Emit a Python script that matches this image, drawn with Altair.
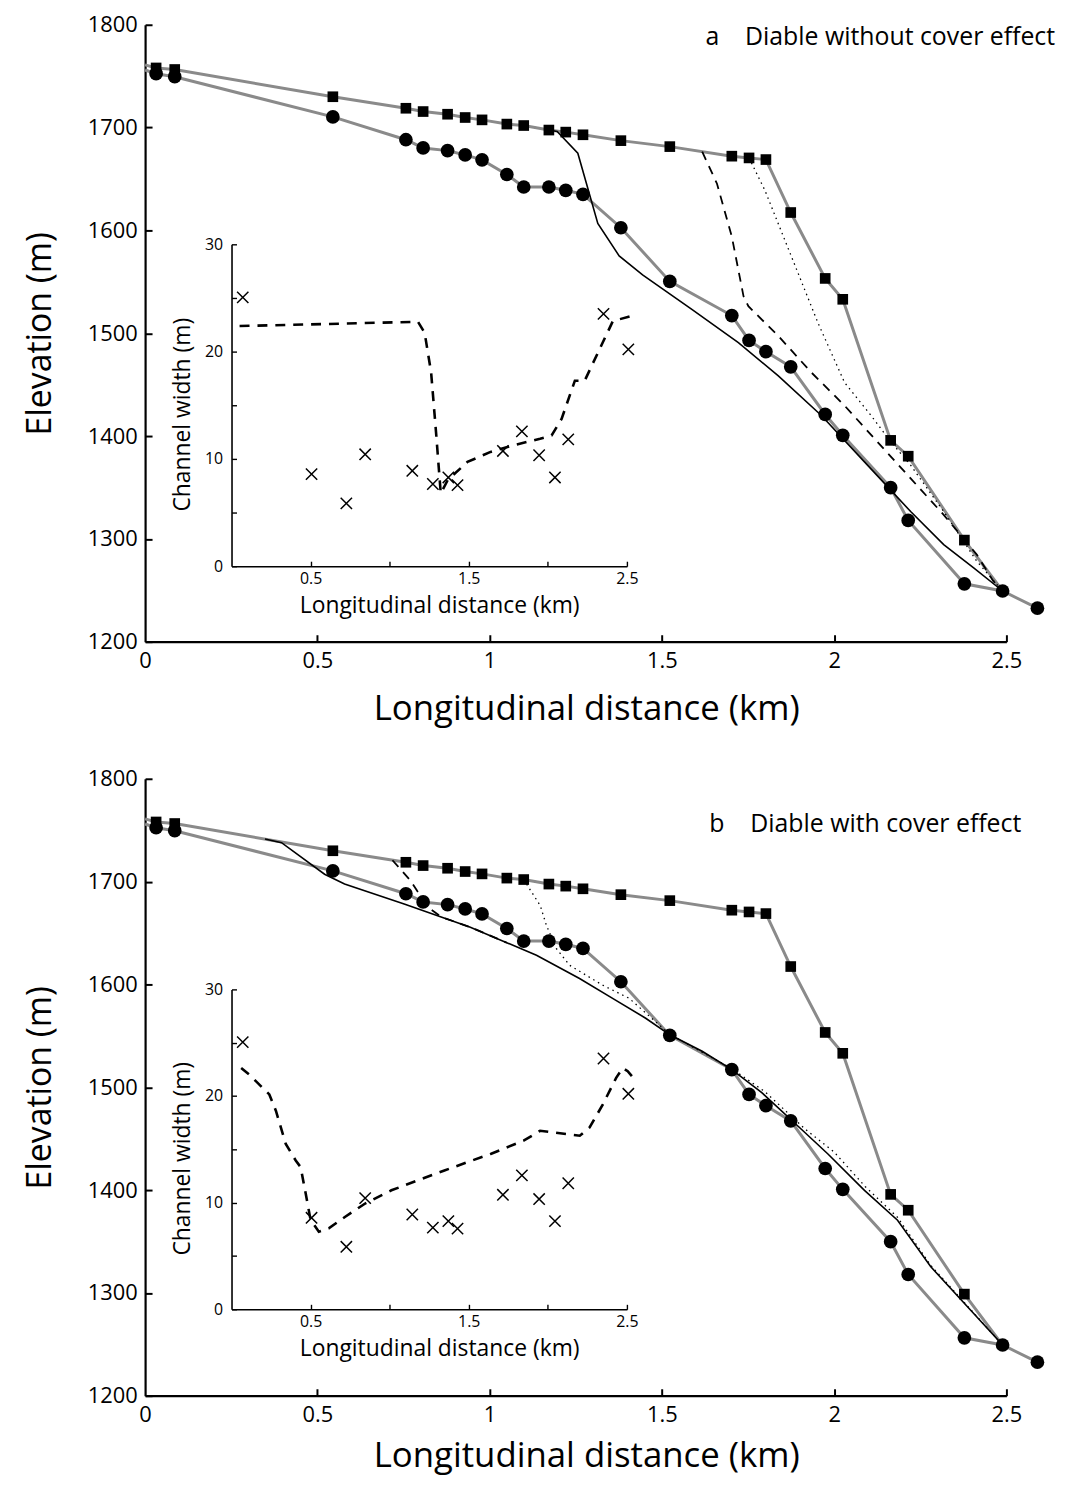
import altair as alt
import pandas as pd

FONT = "Open Sans"
W, H = 867, 1380  # single plot area holding both panels

# ---------------- data ----------------
# measured profiles (distance km, elevation m) - identical in both panels
sq_x = [0.032, 0.086, 0.545, 0.757, 0.807, 0.878, 0.929, 0.978, 1.050, 1.099, 1.172, 1.221,
        1.271, 1.381, 1.523, 1.703, 1.753, 1.802, 1.874, 1.974, 2.025, 2.164, 2.215, 2.378]
sq_elev = [1758, 1756.5, 1730, 1718.8, 1715.6, 1713, 1709.8, 1707.5, 1703.4, 1702, 1697.6, 1695.6,
           1693, 1687.3, 1681.5, 1672.2, 1670.5, 1668.9, 1617.4, 1553.3, 1533, 1395.8, 1380.4, 1298.8]
ci_x = [0.032, 0.086, 0.545, 0.757, 0.807, 0.878, 0.929, 0.978, 1.050, 1.099, 1.172, 1.221,
        1.271, 1.381, 1.523, 1.703, 1.753, 1.802, 1.874, 1.974, 2.025, 2.164, 2.215, 2.378,
        2.489, 2.590]
ci_elev = [1752.4, 1749.5, 1710.4, 1688.2, 1680.2, 1677.6, 1673.4, 1668.6, 1654.4, 1642.2, 1642.2, 1639,
           1635, 1602.6, 1550.4, 1517.2, 1493, 1482.1, 1467.3, 1421, 1400.7, 1349.8, 1317.9, 1256.3,
           1249.3, 1232.6]
sq_line_x = [0.0] + sq_x + [2.489]
sq_line_elev = [1761] + sq_elev + [1249.3]
ci_line_x = [0.0] + ci_x
ci_line_elev = [1756] + ci_elev

# panel a: modelled profiles without cover effect
a_solid_x = [1.172, 1.196, 1.256, 1.314, 1.376, 1.444, 1.588, 1.722, 1.838, 1.963, 2.088, 2.222, 2.318, 2.405, 2.489]
a_solid_elev = [1697.6, 1696.3, 1675.1, 1606.8, 1575.2, 1556.8, 1523, 1490.8, 1458.6, 1420, 1374.9, 1326.6, 1294.4, 1271.8, 1249.3]
a_dash_x = [1.617, 1.660, 1.703, 1.737, 1.751, 1.838, 1.934, 2.030, 2.126, 2.222, 2.318, 2.414, 2.462, 2.489]
a_dash_elev = [1676.6, 1645.4, 1593.9, 1535.9, 1526.3, 1497.3, 1461.8, 1429.7, 1394.2, 1358.8, 1323.4, 1284.7, 1258.9, 1249.3]
a_dot_x = [1.753, 1.799, 1.876, 1.953, 2.030, 2.107, 2.165, 2.222, 2.318, 2.414, 2.489]
a_dot_elev = [1670.5, 1639, 1574.6, 1510.1, 1452.2, 1420, 1394.2, 1371.7, 1326.6, 1278.3, 1249.3]

# panel b: modelled profiles with cover effect
b_solid_x = [0.348, 0.396, 0.521, 0.579, 0.752, 0.944, 1.136, 1.261, 1.357, 1.453, 1.523, 1.617,
             1.703, 1.790, 1.915, 1.982, 2.088, 2.184, 2.280, 2.489]
b_solid_elev = [1741.4, 1737.9, 1707.2, 1697.6, 1678.3, 1655.7, 1628.3, 1605.8, 1586.5, 1567.1, 1551, 1535,
                1517.2, 1494.7, 1456, 1435.1, 1399.7, 1370.7, 1325.6, 1249.3]
b_dash_x = [0.718, 0.771, 0.790, 0.828, 0.860, 0.944, 1.050]
b_dash_elev = [1720.8, 1700.8, 1690.8, 1673.4, 1665.6, 1655.7, 1640.5]
b_dot_x = [1.099, 1.147, 1.165, 1.194, 1.232, 1.328, 1.405, 1.523, 1.703, 1.800, 1.915, 2.000,
           2.090, 2.184, 2.280, 2.489]
b_dot_elev = [1702, 1676.6, 1657.3, 1634.8, 1618.7, 1599.3, 1586.5, 1551.5, 1518, 1495.5, 1459.5, 1437,
              1403.5, 1373.5, 1327, 1249.3]

# insets: channel width (m)
w_obs_x = [0.071, 0.506, 0.726, 0.845, 1.143, 1.273, 1.371, 1.429, 1.716, 1.836, 1.945, 2.045, 2.129, 2.352, 2.509]
w_obs = [25.06, 8.58, 5.86, 10.43, 8.89, 7.66, 8.27, 7.56, 10.74, 12.56, 10.34, 8.27, 11.82, 23.52, 20.21]
a_w_x = [0.051, 1.179, 1.221, 1.262, 1.293, 1.314, 1.323, 1.367, 1.492, 1.638, 1.784, 1.951, 2.024,
         2.087, 2.171, 2.233, 2.411, 2.536]
a_w = [22.38, 22.78, 21.76, 18.06, 12.5, 8.49, 6.79, 8.03, 9.72, 10.65, 11.27, 11.88, 12.19,
       13.73, 17.29, 17.29, 22.84, 23.36]
b_w_x = [0.061, 0.113, 0.239, 0.281, 0.343, 0.406, 0.437, 0.469, 0.500, 0.552, 0.615, 0.719, 0.845,
         1.011, 1.346, 1.638, 1.847, 1.951, 2.202, 2.264, 2.348, 2.432, 2.474, 2.505, 2.557]
b_w = [22.63, 22.0, 20.15, 18.6, 15.5, 13.95, 13.33, 10.85, 8.37, 7.28, 7.59, 8.68, 9.92,
       11.16, 13.02, 14.57, 15.81, 16.74, 16.28, 17.05, 19.22, 21.7, 22.63, 22.33, 21.4]

x_ticks = [0, 0.5, 1, 1.5, 2, 2.5]
y_ticks = [1200, 1300, 1400, 1500, 1600, 1700, 1800]
in_x_ticks = [0.5, 1, 1.5, 2, 2.5]
in_y_ticks = [0, 5, 10, 15, 20, 25, 30]

label_a = "a\u00a0\u00a0\u00a0\u00a0Diable without cover effect"
label_b = "b\u00a0\u00a0\u00a0\u00a0Diable with cover effect"

# ---------------- helpers ----------------
IN_L, IN_R = 87, 485
GREY = "#8a8a8a"


def sc(domain, rng):
    return alt.Scale(domain=domain, range=rng, nice=False, zero=False)


def frame(x, y):
    return pd.DataFrame({"x": x, "y": y})


def enc(chart, xs, ys, xaxis=None, yaxis=None):
    return chart.encode(x=alt.X("x:Q", scale=xs, axis=xaxis),
                        y=alt.Y("y:Q", scale=ys, axis=yaxis))


def panel(ytop, ybot, in_top, in_bot, solid, dashed, dotted, wmodel, label, lx, ly, xtitle_pad):
    xm = sc([0, 2.5], [0, W])
    ym = sc([1200, 1800], [ybot, ytop])
    xi = sc([0, 2.5], [IN_L, IN_R])
    yi = sc([0, 30], [in_bot, in_top])

    main_x_axis = alt.Axis(orient="bottom", offset=ybot - H, values=x_ticks, format="~g",
                           title="Longitudinal distance (km)", ticks=False, tickSize=0,
                           labelPadding=9, titlePadding=xtitle_pad, labelFontSize=22, titleFontSize=35,
                           titleX=444, domainWidth=2.2, labelFlush=False, labelOverlap=False)
    main_y_axis = alt.Axis(orient="left", values=y_ticks, format="d", title="Elevation (m)",
                           ticks=False, tickSize=0, labelPadding=8, titlePadding=30,
                           labelFontSize=22, titleFontSize=34, domainWidth=2.2,
                           labelFlush=False, labelOverlap=False)
    mirror_x = alt.Axis(orient="top", offset=-ybot, values=x_ticks[1:], labels=False, domain=False,
                        tickSize=7, tickWidth=2, title=None)
    mirror_y = alt.Axis(orient="right", offset=-W, values=y_ticks, labels=False, domain=False,
                        tickSize=7, tickWidth=2, title=None)

    in_x_axis = alt.Axis(orient="bottom", offset=in_bot - H, values=in_x_ticks,
                         labelExpr="(datum.value == 0.5 || datum.value == 1.5 || datum.value == 2.5) ? format(datum.value, '.1f') : ''",
                         title="Longitudinal distance (km)", ticks=False, tickSize=0,
                         labelPadding=4, titlePadding=9, labelFontSize=16, titleFontSize=23,
                         titleX=296, domainWidth=1.6, labelFlush=False, labelOverlap=False)
    in_y_axis = alt.Axis(orient="left", offset=-IN_L, values=in_y_ticks,
                         labelExpr="datum.value % 10 == 0 ? datum.label : ''",
                         title="Channel width (m)", ticks=False, tickSize=0,
                         labelPadding=9, titlePadding=10, labelFontSize=16, titleFontSize=23,
                         titleY=(in_top + in_bot) / 2 + 9,
                         domainWidth=1.6, labelFlush=False, labelOverlap=False)
    in_mirror_x = alt.Axis(orient="top", offset=-in_bot, values=in_x_ticks, labels=False,
                           domain=False, tickSize=5, tickWidth=1.4, title=None)
    in_mirror_y = alt.Axis(orient="right", offset=IN_L - W, values=in_y_ticks, labels=False,
                           domain=False, tickSize=5, tickWidth=1.4, title=None)

    layers = []
    # grey profile lines
    layers.append(enc(alt.Chart(frame(sq_line_x, sq_line_elev)).mark_line(color=GREY, strokeWidth=3),
                      xm, ym, mirror_x, mirror_y))
    layers.append(enc(alt.Chart(frame(ci_line_x, ci_line_elev)).mark_line(color=GREY, strokeWidth=3),
                      xm, ym))
    # model profiles
    layers.append(enc(alt.Chart(frame(*solid)).mark_line(color="black", strokeWidth=1.6), xm, ym))
    layers.append(enc(alt.Chart(frame(*dashed)).mark_line(color="black", strokeWidth=1.8,
                                                           strokeDash=[9, 7]), xm, ym))
    layers.append(enc(alt.Chart(frame(*dotted)).mark_line(color="black", strokeWidth=1.3,
                                                           strokeDash=[1.5, 4]), xm, ym))
    # markers
    layers.append(enc(alt.Chart(frame(sq_x, sq_elev)).mark_point(shape="square", filled=True,
                                                                   color="black", size=115, opacity=1),
                      xm, ym))
    layers.append(enc(alt.Chart(frame(ci_x, ci_elev)).mark_point(shape="circle", filled=True,
                                                                   color="black", size=190, opacity=1),
                      xm, ym, main_x_axis, main_y_axis))
    # inset
    layers.append(enc(alt.Chart(frame(*wmodel)).mark_line(color="black", strokeWidth=2.6,
                                                           strokeDash=[10, 8]),
                      xi, yi, in_mirror_x, in_mirror_y))
    layers.append(enc(alt.Chart(frame(w_obs_x, w_obs)).mark_point(shape="M-1,-1L1,1M-1,1L1,-1",
                                                                    filled=False, color="black",
                                                                    size=130, strokeWidth=1.5,
                                                                    opacity=1),
                      xi, yi, in_x_axis, in_y_axis))
    # panel label
    layers.append(alt.Chart(pd.DataFrame({"t": [label]})).mark_text(
        align="right", baseline="middle", fontSize=25, font=FONT, color="black").encode(
        x=alt.value(lx), y=alt.value(ly), text="t:N"))
    return layers


layers_a = panel(0, 621, 221, 545, (a_solid_x, a_solid_elev), (a_dash_x, a_dash_elev),
                 (a_dot_x, a_dot_elev), (a_w_x, a_w), label_a, 916, 12, 20)
layers_b = panel(759, 1380, 971, 1293, (b_solid_x, b_solid_elev), (b_dash_x, b_dash_elev),
                 (b_dot_x, b_dot_elev), (b_w_x, b_w), label_b, 882, 805, 13)

chart = alt.layer(*(layers_a + layers_b)).resolve_scale(
    x="independent", y="independent"
).properties(
    width=W, height=H,
    autosize=alt.AutoSizeParams(type="none"),
    padding={"left": 138, "top": 12, "right": 62, "bottom": 85},
).configure_axis(
    grid=False, labelFont=FONT, titleFont=FONT, labelColor="black", titleColor="black",
    domainColor="black", tickColor="black", titleFontWeight="normal"
).configure_view(stroke=None)

chart.save("out.html", embed_options={"renderer": "svg", "actions": False})
